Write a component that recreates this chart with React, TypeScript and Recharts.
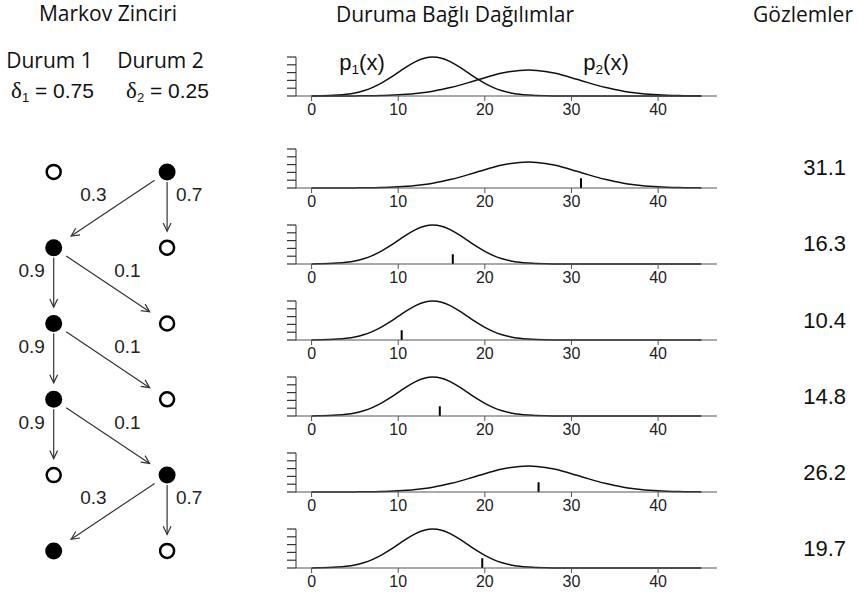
import { LineChart, Line, XAxis, YAxis, ReferenceLine, ScatterChart, Scatter } from 'recharts';

document.body.style.margin = '0';

// density grid (x) and the two state-dependent densities
const xs = [
  0, 1, 2, 3, 4, 5, 6, 7, 8, 9, 10, 11, 12, 13, 14, 15, 16, 17, 18, 19, 20, 21, 22,
  23, 24, 25, 26, 27, 28, 29, 30, 31, 32, 33, 34, 35, 36, 37, 38, 39, 40, 41, 42, 43, 44, 45,
];
const p1Density = [
  0.0002, 0.0005, 0.0011, 0.0023, 0.0044, 0.0079, 0.0135, 0.0216, 0.0324, 0.0457, 0.0605,
  0.0753, 0.088, 0.0967, 0.0997, 0.0967, 0.088, 0.0753, 0.0605, 0.0457, 0.0324, 0.0216,
  0.0135, 0.0079, 0.0044, 0.0023, 0.0011, 0.0005, 0.0002, 0.0001, 0, 0, 0, 0, 0, 0, 0, 0,
  0, 0, 0, 0, 0, 0, 0, 0,
];
const p2Density = [
  0, 0, 0, 0.0001, 0.0001, 0.0003, 0.0004, 0.0007, 0.0012, 0.0019, 0.0029, 0.0044, 0.0064,
  0.009, 0.0124, 0.0166, 0.0216, 0.0273, 0.0337, 0.0403, 0.047, 0.0532, 0.0587, 0.0629,
  0.0656, 0.0665, 0.0656, 0.0629, 0.0587, 0.0532, 0.047, 0.0403, 0.0337, 0.0273, 0.0216,
  0.0166, 0.0124, 0.009, 0.0064, 0.0044, 0.0029, 0.0019, 0.0012, 0.0007, 0.0004, 0.0003,
];

// hidden state sequence and what was observed at each step
const states = [2, 1, 1, 1, 2, 1];
const observations = [31.1, 16.3, 10.4, 14.8, 26.2, 19.7];
const initialProbs = [0.75, 0.25];
const transitions = [
  [0.9, 0.1],
  [0.3, 0.7],
];

const xTicks = [0, 10, 20, 30, 40];
const yTicks = [0, 0.02, 0.04, 0.06, 0.08, 0.1];

const densityData = xs.map((x, i) => ({ x, p1: p1Density[i], p2: p2Density[i] }));

const SANS = '"Liberation Sans", Arial, sans-serif';
const HEAD = '"Open Sans", "Noto Sans", sans-serif';

const panelAxisY = [96, 188.3, 264.3, 340.3, 416.3, 492.3, 568.3];
const PLOT_H = 39;
const TOP_M = 8;
const AXIS_H = 30;

// y ticks are drawn without labels
const NoLabel = () => <g />;

const DensityPanel = ({ axisY, keys, obs }: { axisY: number; keys: string[]; obs?: number }) => (
  <div style={{ position: 'absolute', left: 250, top: axisY - PLOT_H - TOP_M }}>
    <LineChart
      width={480}
      height={TOP_M + PLOT_H + AXIS_H}
      data={densityData}
      margin={{ top: TOP_M, right: 13, left: 0, bottom: 0 }}
    >
      <XAxis
        dataKey="x"
        type="number"
        domain={[-1.8, 46.8]}
        allowDataOverflow
        ticks={xTicks}
        interval={0}
        tickSize={5}
        tickMargin={3}
        height={AXIS_H}
        stroke="#555"
        tickLine={{ stroke: '#555' }}
        tick={{ fill: '#222', fontSize: 16, fontFamily: SANS }}
      />
      <YAxis
        type="number"
        domain={[0, 0.1]}
        ticks={yTicks}
        interval={0}
        tick={NoLabel}
        tickSize={9}
        width={46}
        stroke="#333"
        axisLine={{ stroke: '#333' }}
        tickLine={{ stroke: '#333', strokeWidth: 1.2 }}
      />
      {keys.map((k) => (
        <Line key={k} dataKey={k} type="monotone" stroke="#111" strokeWidth={1.5} dot={false} isAnimationActive={false} />
      ))}
      {obs !== undefined && (
        <ReferenceLine segment={[{ x: obs, y: 0 }, { x: obs, y: 0.025 }]} stroke="#000" strokeWidth={2} />
      )}
    </LineChart>
  </div>
);

const COL_PX = 113.4;
const ROW_PX = 75.8;

const NodeShape = (props: any) => {
  const { cx, cy, payload } = props;
  return payload.filled ? (
    <circle cx={cx} cy={cy} r={8.5} fill="#000" />
  ) : (
    <circle cx={cx} cy={cy} r={7} fill="#fff" stroke="#000" strokeWidth={2.5} />
  );
};

const arrowShape = (label: string, fromCol: number, toCol: number) => (props: any) => {
  const { x1, y1, x2, y2 } = props;
  const vertical = fromCol === toCol;
  const dx = x2 - x1;
  const dy = y2 - y1;
  const len = Math.hypot(dx, dy);
  const ux = dx / len;
  const uy = dy / len;
  const s0 = vertical ? 10 : 15;
  const s1 = vertical ? 16.5 : 21;
  const ax = x1 + ux * s0;
  const ay = y1 + uy * s0;
  const bx = x2 - ux * s1;
  const by = y2 - uy * s1;
  const head = 9;
  const ang = 0.45;
  const wing = (a: number) => {
    const vx = -ux;
    const vy = -uy;
    return [bx + head * (vx * Math.cos(a) - vy * Math.sin(a)), by + head * (vx * Math.sin(a) + vy * Math.cos(a))];
  };
  const [w1x, w1y] = wing(ang);
  const [w2x, w2y] = wing(-ang);
  const lx = vertical ? x1 + (fromCol === 1 ? -22 : 22) : x1 + dx * 0.65;
  const ly = y1 + dy * 0.3;
  return (
    <g>
      <line x1={ax} y1={ay} x2={bx} y2={by} stroke="#333" strokeWidth={1.2} />
      <polyline points={`${w1x},${w1y} ${bx},${by} ${w2x},${w2y}`} fill="none" stroke="#333" strokeWidth={1.2} />
      <text x={lx} y={ly} textAnchor="middle" dominantBaseline="central" fontSize={19} fontFamily={SANS} fill="#222">
        {label}
      </text>
    </g>
  );
};

const MarkovChain = () => {
  const nodes = states.flatMap((s, t) => [1, 2].map((c) => ({ col: c, t, filled: s === c })));
  const arrows = states.slice(0, -1).flatMap((s, t) =>
    [1, 2].map((c) => ({ fromCol: s, toCol: c, t, p: transitions[s - 1][c - 1] })),
  );
  return (
    <div style={{ position: 'absolute', left: 53.3 - COL_PX / 2, top: 171.7 - ROW_PX / 2 }}>
      <ScatterChart width={COL_PX * 2} height={ROW_PX * 6} margin={{ top: 0, right: 0, bottom: 0, left: 0 }}>
        <XAxis type="number" dataKey="col" domain={[0.5, 2.5]} hide />
        <YAxis type="number" dataKey="t" domain={[-0.5, 5.5]} reversed hide />
        {arrows.map((a, i) => (
          <ReferenceLine
            key={i}
            segment={[
              { x: a.fromCol, y: a.t },
              { x: a.toCol, y: a.t + 1 },
            ]}
            shape={arrowShape(a.p.toFixed(1), a.fromCol, a.toCol)}
          />
        ))}
        <Scatter data={nodes} shape={NodeShape} isAnimationActive={false} />
      </ScatterChart>
    </div>
  );
};

const Txt = ({ x, top, size, font, children }: any) => (
  <div
    style={{
      position: 'absolute',
      left: x,
      top,
      transform: 'translateX(-50%)',
      whiteSpace: 'nowrap',
      fontSize: size,
      lineHeight: `${size}px`,
      fontFamily: font,
      color: '#111',
    }}
  >
    {children}
  </div>
);

const Sub = ({ children }: any) => (
  <span style={{ fontSize: '0.62em', verticalAlign: '-0.28em', lineHeight: 0 }}>{children}</span>
);

export default function App() {
  return (
    <div style={{ position: 'relative', width: 862, height: 594, background: '#fff', overflow: 'hidden' }}>
      <Txt x={108} top={3} size={21} font={HEAD}>Markov Zinciri</Txt>
      <Txt x={455} top={4} size={21} font={HEAD}>Duruma Bağlı Dağılımlar</Txt>
      <Txt x={803} top={4} size={21} font={HEAD}>Gözlemler</Txt>

      <Txt x={49.5} top={49.5} size={21} font={HEAD}>Durum 1</Txt>
      <Txt x={160.5} top={49.5} size={21} font={HEAD}>Durum 2</Txt>
      {initialProbs.map((d, i) => (
        <Txt key={i} x={i === 0 ? 52.5 : 167.5} top={79.5} size={21} font={SANS}>
          <span style={{ fontFamily: '"Liberation Serif", "DejaVu Serif", serif', fontSize: 23 }}>δ</span>
          <Sub>{i + 1}</Sub> = {d.toFixed(2)}
        </Txt>
      ))}

      <MarkovChain />

      <DensityPanel axisY={panelAxisY[0]} keys={['p1', 'p2']} />
      <Txt x={362} top={52} size={22} font={SANS}>
        p<Sub>1</Sub>(x)
      </Txt>
      <Txt x={606} top={52} size={22} font={SANS}>
        p<Sub>2</Sub>(x)
      </Txt>

      {states.map((s, i) => (
        <DensityPanel key={i} axisY={panelAxisY[i + 1]} keys={[s === 1 ? 'p1' : 'p2']} obs={observations[i]} />
      ))}

      {observations.map((o, i) => (
        <div
          key={i}
          style={{
            position: 'absolute',
            right: 16,
            top: 168 + 76.2 * i - 10.8,
            fontSize: 22,
            lineHeight: '22px',
            fontFamily: SANS,
            color: '#111',
          }}
        >
          {o.toFixed(1)}
        </div>
      ))}
    </div>
  );
}
